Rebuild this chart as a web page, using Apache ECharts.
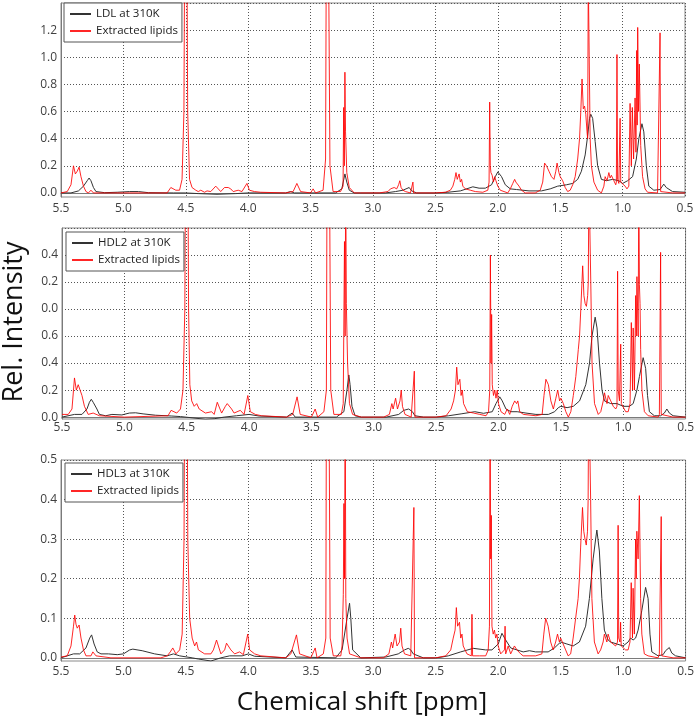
<!DOCTYPE html>
<html>
<head>
  <meta charset="utf-8">
  <title>NMR spectra</title>
  <script src="https://cdn.jsdelivr.net/npm/echarts/dist/echarts.min.js"></script>
  <style>
    html, body { margin: 0; padding: 0; background: #fff; }
    #main { width: 697px; height: 719px; }
  </style>
</head>
<body>
<div id="main"></div>
<script>
  // [ppm, relative intensity]
  const ldlProtein = [
    [5.50,0.0],[5.42,0.0],[5.36,0.015],[5.32,0.05],[5.29,0.09],[5.275,0.11],[5.26,0.09],[5.24,0.04],[5.22,0.01],
    [5.15,0.002],[5.05,0.005],[4.95,0.01],[4.88,0.01],[4.80,0.002],[4.60,0.0],[4.50,0.0],[4.40,-0.005],[4.25,-0.01],
    [4.10,-0.005],[4.00,0.0],[3.70,0.0],[3.66,0.01],[3.63,0.0],[3.30,0.0],[3.25,0.03],[3.225,0.14],[3.21,0.08],
    [3.19,0.02],[3.15,0.0],[2.90,0.0],[2.82,0.01],[2.76,0.02],[2.71,0.04],[2.69,0.015],[2.65,0.0],[2.50,0.0],
    [2.40,0.005],[2.30,0.015],[2.20,0.045],[2.15,0.035],[2.10,0.035],[2.05,0.06],[2.02,0.12],[2.00,0.155],[1.97,0.12],
    [1.94,0.06],[1.90,0.03],[1.85,0.025],[1.75,0.015],[1.65,0.015],[1.58,0.03],[1.52,0.05],[1.45,0.06],[1.40,0.07],
    [1.36,0.1],[1.33,0.16],[1.30,0.28],[1.28,0.42],[1.265,0.55],[1.255,0.58],[1.24,0.55],[1.22,0.38],[1.20,0.2],
    [1.17,0.1],[1.13,0.09],[1.08,0.1],[1.03,0.09],[1.0,0.07],[0.96,0.09],[0.92,0.12],[0.89,0.25],[0.87,0.4],
    [0.845,0.51],[0.83,0.45],[0.81,0.2],[0.79,0.05],[0.75,0.02],[0.70,0.025],[0.67,0.065],[0.65,0.04],[0.60,0.01],[0.50,0.005]
  ];
  const ldlLipids = [
    [5.50,0.0],[5.45,0.01],[5.42,0.06],[5.40,0.20],[5.385,0.14],[5.37,0.16],[5.355,0.19],[5.34,0.12],[5.32,0.05],
    [5.30,0.01],[5.28,0.0],[5.26,0.02],[5.24,0.0],[5.0,0.0],[4.65,0.0],[4.62,0.04],[4.605,0.05],[4.58,0.02],[4.55,0.02],
    [4.53,0.1],[4.515,0.6],[4.51,1.6],[4.49,1.6],[4.485,0.6],[4.47,0.1],[4.45,0.04],[4.42,0.02],[4.40,0.01],[4.38,0.02],
    [4.35,0.005],[4.33,0.015],[4.30,0.01],[4.26,0.05],[4.22,0.01],[4.19,0.04],[4.175,0.05],[4.16,0.04],[4.14,0.03],
    [4.12,0.01],[4.08,0.02],[4.05,0.01],[4.01,0.07],[3.99,0.02],[3.95,0.01],[3.90,0.005],[3.70,0.0],[3.64,0.01],
    [3.61,0.07],[3.58,0.01],[3.50,0.0],[3.48,0.03],[3.46,0.0],[3.40,0.02],[3.38,0.25],[3.375,1.6],[3.355,1.6],
    [3.345,0.2],[3.32,0.01],[3.26,0.01],[3.24,0.05],[3.235,0.63],[3.23,0.2],[3.225,0.89],[3.22,0.45],[3.21,0.15],
    [3.19,0.04],[3.15,0.0],[3.10,0.0],[2.95,0.0],[2.88,0.01],[2.86,0.03],[2.845,0.02],[2.83,0.04],[2.81,0.03],
    [2.795,0.06],[2.785,0.09],[2.775,0.04],[2.76,0.02],[2.74,0.01],[2.70,0.0],[2.685,0.0],[2.68,0.08],[2.675,0.0],
    [2.5,0.0],[2.42,0.005],[2.38,0.02],[2.36,0.05],[2.345,0.10],[2.335,0.15],[2.325,0.10],[2.31,0.14],[2.30,0.08],
    [2.29,0.1],[2.28,0.05],[2.26,0.03],[2.22,0.02],[2.18,0.01],[2.12,0.005],[2.08,0.02],[2.07,0.08],[2.065,0.67],
    [2.06,0.2],[2.055,0.15],[2.045,0.13],[2.035,0.08],[2.025,0.12],[2.015,0.09],[2.0,0.05],[1.98,0.02],[1.95,0.01],
    [1.92,0.0],[1.90,0.03],[1.88,0.07],[1.865,0.10],[1.855,0.08],[1.845,0.09],[1.83,0.05],[1.81,0.02],[1.78,0.0],
    [1.70,0.0],[1.66,0.02],[1.64,0.08],[1.625,0.22],[1.61,0.20],[1.59,0.16],[1.57,0.12],[1.55,0.1],[1.535,0.16],
    [1.525,0.22],[1.51,0.15],[1.50,0.12],[1.48,0.09],[1.46,0.04],[1.44,0.01],[1.42,0.02],[1.40,0.06],[1.38,0.12],
    [1.36,0.25],[1.345,0.40],[1.335,0.60],[1.325,0.84],[1.315,0.62],[1.305,0.64],[1.295,0.58],[1.285,0.45],[1.28,0.40],
    [1.275,1.6],[1.265,1.6],[1.26,0.4],[1.25,0.2],[1.23,0.08],[1.20,0.02],[1.17,0.0],[1.15,0.05],[1.14,0.12],
    [1.125,0.09],[1.11,0.15],[1.10,0.11],[1.09,0.13],[1.07,0.09],[1.055,0.06],[1.05,0.08],[1.045,1.02],[1.04,0.1],
    [1.03,0.07],[1.02,0.55],[1.015,0.08],[1.0,0.07],[0.98,0.05],[0.965,0.03],[0.95,0.05],[0.94,0.66],[0.93,0.2],
    [0.922,0.63],[0.912,0.25],[0.90,0.70],[0.893,0.3],[0.887,1.05],[0.883,0.5],[0.879,1.22],[0.872,0.6],[0.866,0.95],
    [0.855,0.35],[0.84,0.12],[0.82,0.03],[0.80,0.005],[0.72,0.0],[0.705,0.01],[0.70,1.18],[0.695,0.01],[0.60,0.0],[0.50,0.0]
  ];
  const hdl2Protein = [
    [5.50,0.0],[5.40,0.01],[5.34,0.01],[5.30,0.03],[5.28,0.055],[5.265,0.066],[5.25,0.055],[5.22,0.03],[5.20,0.01],
    [5.15,0.005],[5.10,0.01],[5.02,0.008],[4.96,0.015],[4.91,0.016],[4.85,0.012],[4.75,0.007],[4.62,0.004],[4.55,0.002],
    [4.45,-0.003],[4.35,-0.008],[4.28,-0.006],[4.20,0.0],[4.10,0.005],[4.00,0.01],[3.92,0.004],[3.70,0.0],[3.655,0.015],
    [3.63,0.0],[3.30,0.0],[3.24,0.02],[3.215,0.1],[3.20,0.156],[3.19,0.12],[3.175,0.04],[3.15,0.005],[3.10,0.0],
    [2.90,0.0],[2.80,0.01],[2.76,0.025],[2.72,0.03],[2.69,0.02],[2.67,0.005],[2.60,0.0],[2.50,0.0],[2.40,0.005],
    [2.30,0.012],[2.19,0.02],[2.12,0.014],[2.05,0.02],[2.02,0.05],[1.99,0.075],[1.97,0.06],[1.94,0.03],[1.90,0.02],
    [1.85,0.02],[1.78,0.015],[1.70,0.01],[1.60,0.01],[1.55,0.02],[1.52,0.035],[1.50,0.04],[1.45,0.035],[1.40,0.04],
    [1.35,0.06],[1.30,0.12],[1.27,0.2],[1.25,0.3],[1.225,0.37],[1.21,0.33],[1.19,0.2],[1.17,0.1],[1.15,0.06],
    [1.10,0.05],[1.05,0.05],[1.00,0.04],[0.95,0.04],[0.92,0.05],[0.89,0.1],[0.87,0.15],[0.84,0.22],[0.82,0.18],
    [0.805,0.08],[0.79,0.02],[0.75,0.005],[0.70,0.005],[0.67,0.015],[0.65,0.03],[0.63,0.015],[0.60,0.005],[0.50,0.0]
  ];
  const hdl2Lipids = [
    [5.50,0.01],[5.45,0.01],[5.42,0.03],[5.40,0.145],[5.385,0.10],[5.37,0.12],[5.355,0.125],[5.34,0.08],[5.32,0.04],
    [5.29,0.01],[5.25,0.015],[5.20,0.005],[5.00,0.0],[4.65,0.005],[4.625,0.025],[4.61,0.03],[4.58,0.015],[4.55,0.03],
    [4.53,0.1],[4.515,0.4],[4.51,0.9],[4.49,0.9],[4.485,0.4],[4.475,0.12],[4.46,0.06],[4.44,0.04],[4.42,0.05],
    [4.40,0.03],[4.35,0.015],[4.30,0.02],[4.28,0.01],[4.255,0.055],[4.22,0.015],[4.19,0.04],[4.175,0.05],[4.16,0.045],
    [4.14,0.03],[4.12,0.015],[4.07,0.025],[4.04,0.01],[4.01,0.08],[3.99,0.02],[3.95,0.01],[3.90,0.005],[3.70,0.0],
    [3.65,0.01],[3.615,0.075],[3.59,0.01],[3.50,0.0],[3.47,0.03],[3.45,0.0],[3.40,0.02],[3.38,0.1],[3.375,0.9],
    [3.355,0.9],[3.345,0.1],[3.32,0.01],[3.26,0.01],[3.245,0.05],[3.235,0.65],[3.23,0.3],[3.225,0.9],[3.22,0.42],
    [3.21,0.2],[3.195,0.05],[3.17,0.01],[3.10,0.0],[2.92,0.0],[2.875,0.01],[2.855,0.05],[2.845,0.03],[2.825,0.07],
    [2.81,0.03],[2.79,0.06],[2.78,0.10],[2.77,0.04],[2.75,0.01],[2.70,0.0],[2.685,0.0],[2.675,0.17],[2.67,0.0],
    [2.50,0.0],[2.42,0.005],[2.38,0.03],[2.36,0.06],[2.345,0.10],[2.335,0.185],[2.325,0.12],[2.31,0.14],[2.30,0.08],
    [2.29,0.10],[2.28,0.05],[2.25,0.02],[2.20,0.015],[2.15,0.01],[2.10,0.005],[2.08,0.02],[2.07,0.1],[2.065,0.60],
    [2.06,0.2],[2.055,0.38],[2.05,0.12],[2.04,0.08],[2.03,0.10],[2.02,0.07],[2.01,0.10],[2.00,0.05],[1.98,0.02],
    [1.95,0.01],[1.93,0.03],[1.91,0.01],[1.89,0.04],[1.87,0.06],[1.855,0.05],[1.845,0.06],[1.83,0.02],[1.80,0.01],
    [1.70,0.005],[1.65,0.01],[1.635,0.08],[1.62,0.14],[1.60,0.12],[1.58,0.06],[1.56,0.03],[1.54,0.07],[1.525,0.10],
    [1.51,0.06],[1.50,0.07],[1.48,0.05],[1.46,0.02],[1.44,0.0],[1.42,0.02],[1.40,0.08],[1.38,0.15],[1.36,0.25],
    [1.35,0.3],[1.34,0.4],[1.325,0.56],[1.315,0.45],[1.305,0.42],[1.295,0.41],[1.285,0.45],[1.28,0.5],[1.275,0.9],
    [1.265,0.9],[1.26,0.5],[1.25,0.2],[1.23,0.05],[1.20,0.01],[1.18,0.02],[1.16,0.06],[1.15,0.09],[1.13,0.05],
    [1.12,0.08],[1.10,0.06],[1.08,0.04],[1.06,0.03],[1.05,0.04],[1.045,0.54],[1.04,0.1],[1.03,0.06],[1.02,0.27],
    [1.015,0.05],[1.00,0.05],[0.98,0.02],[0.96,0.02],[0.945,0.05],[0.935,0.35],[0.925,0.1],[0.92,0.33],[0.91,0.1],
    [0.90,0.45],[0.895,0.3],[0.89,0.52],[0.88,0.3],[0.875,0.9],[0.87,0.49],[0.865,0.42],[0.86,0.25],[0.85,0.1],
    [0.83,0.02],[0.80,0.005],[0.72,0.0],[0.71,0.01],[0.70,0.61],[0.695,0.01],[0.60,0.0],[0.50,0.0]
  ];
  const hdl3Protein = [
    [5.50,0.0],[5.45,0.005],[5.40,0.01],[5.35,0.01],[5.30,0.025],[5.27,0.05],[5.255,0.058],[5.235,0.035],[5.21,0.015],
    [5.18,0.01],[5.12,0.01],[5.05,0.008],[5.00,0.01],[4.95,0.02],[4.925,0.022],[4.85,0.018],[4.75,0.01],[4.65,0.005],
    [4.60,0.01],[4.55,0.005],[4.45,0.0],[4.40,-0.003],[4.30,-0.008],[4.22,0.0],[4.15,0.005],[4.05,0.005],[4.00,0.01],
    [3.95,0.004],[3.70,0.0],[3.65,0.02],[3.62,0.002],[3.30,0.0],[3.25,0.02],[3.21,0.1],[3.19,0.138],[3.18,0.1],
    [3.165,0.02],[3.10,0.0],[2.90,0.002],[2.80,0.01],[2.75,0.02],[2.72,0.024],[2.70,0.02],[2.68,0.01],[2.60,0.0],
    [2.50,0.0],[2.45,0.002],[2.40,0.005],[2.30,0.015],[2.20,0.024],[2.10,0.02],[2.05,0.02],[2.00,0.035],[1.97,0.062],
    [1.94,0.045],[1.90,0.025],[1.85,0.02],[1.80,0.015],[1.75,0.018],[1.70,0.015],[1.60,0.015],[1.55,0.025],[1.50,0.04],
    [1.45,0.035],[1.40,0.03],[1.35,0.04],[1.30,0.08],[1.27,0.15],[1.24,0.25],[1.22,0.3],[1.21,0.323],[1.19,0.27],
    [1.17,0.15],[1.15,0.07],[1.12,0.045],[1.10,0.04],[1.05,0.035],[1.00,0.03],[0.96,0.04],[0.94,0.05],[0.92,0.045],
    [0.90,0.05],[0.88,0.07],[0.85,0.12],[0.82,0.178],[0.80,0.15],[0.785,0.06],[0.77,0.015],[0.72,0.005],[0.68,0.008],
    [0.66,0.018],[0.63,0.026],[0.61,0.012],[0.58,0.005],[0.50,0.0]
  ];
  const hdl3Lipids = [
    [5.50,0.002],[5.45,0.005],[5.42,0.03],[5.40,0.08],[5.39,0.108],[5.38,0.085],[5.37,0.075],[5.355,0.083],[5.34,0.05],
    [5.32,0.02],[5.30,0.005],[5.26,0.005],[5.245,0.015],[5.22,0.005],[5.10,0.0],[4.70,0.0],[4.65,0.005],[4.625,0.015],
    [4.605,0.025],[4.58,0.01],[4.55,0.02],[4.53,0.06],[4.515,0.3],[4.51,0.7],[4.49,0.7],[4.485,0.3],[4.47,0.1],
    [4.45,0.05],[4.43,0.03],[4.415,0.04],[4.40,0.02],[4.35,0.01],[4.30,0.01],[4.28,0.02],[4.255,0.045],[4.22,0.01],
    [4.19,0.02],[4.175,0.037],[4.16,0.035],[4.14,0.02],[4.11,0.01],[4.07,0.015],[4.04,0.008],[4.005,0.06],[3.99,0.02],
    [3.95,0.01],[3.90,0.005],[3.70,0.0],[3.66,0.01],[3.615,0.058],[3.59,0.01],[3.50,0.0],[3.465,0.025],[3.45,0.0],
    [3.40,0.01],[3.38,0.05],[3.375,0.7],[3.355,0.7],[3.345,0.05],[3.32,0.005],[3.26,0.005],[3.25,0.03],[3.24,0.16],
    [3.235,0.39],[3.23,0.2],[3.225,0.7],[3.22,0.15],[3.21,0.05],[3.19,0.01],[3.10,0.0],[2.92,0.0],[2.875,0.01],
    [2.855,0.04],[2.845,0.025],[2.825,0.06],[2.81,0.03],[2.79,0.04],[2.78,0.075],[2.77,0.03],[2.75,0.01],[2.70,0.005],
    [2.685,0.0],[2.675,0.38],[2.67,0.0],[2.50,0.0],[2.42,0.005],[2.38,0.02],[2.36,0.05],[2.345,0.07],[2.335,0.127],
    [2.325,0.08],[2.31,0.09],[2.30,0.05],[2.29,0.06],[2.28,0.03],[2.25,0.01],[2.215,0.005],[2.21,0.11],[2.205,0.005],
    [2.15,0.005],[2.10,0.005],[2.08,0.02],[2.07,0.08],[2.065,0.7],[2.06,0.25],[2.055,0.36],[2.05,0.08],[2.04,0.06],
    [2.03,0.07],[2.02,0.05],[2.01,0.06],[2.00,0.03],[1.98,0.01],[1.95,0.02],[1.945,0.08],[1.94,0.01],[1.92,0.03],
    [1.90,0.01],[1.87,0.03],[1.85,0.02],[1.82,0.01],[1.80,0.005],[1.70,0.005],[1.65,0.01],[1.635,0.06],[1.62,0.10],
    [1.60,0.08],[1.58,0.04],[1.56,0.02],[1.54,0.04],[1.525,0.06],[1.51,0.04],[1.50,0.05],[1.48,0.035],[1.46,0.02],
    [1.44,0.005],[1.42,0.01],[1.40,0.05],[1.38,0.1],[1.36,0.15],[1.35,0.2],[1.34,0.28],[1.325,0.38],[1.315,0.32],
    [1.305,0.30],[1.295,0.285],[1.285,0.32],[1.28,0.4],[1.275,0.7],[1.265,0.7],[1.26,0.4],[1.25,0.15],[1.23,0.04],
    [1.20,0.01],[1.18,0.02],[1.16,0.04],[1.15,0.06],[1.13,0.04],[1.12,0.06],[1.10,0.04],[1.08,0.035],[1.06,0.03],
    [1.045,0.04],[1.04,0.335],[1.035,0.05],[1.025,0.04],[1.02,0.09],[1.015,0.03],[1.00,0.03],[0.98,0.02],[0.96,0.02],
    [0.945,0.04],[0.935,0.19],[0.925,0.05],[0.92,0.176],[0.91,0.06],[0.90,0.30],[0.895,0.2],[0.89,0.32],[0.88,0.25],
    [0.87,0.41],[0.865,0.28],[0.86,0.15],[0.85,0.06],[0.83,0.01],[0.80,0.005],[0.72,0.0],[0.71,0.01],[0.695,0.357],
    [0.69,0.005],[0.60,0.0],[0.50,0.0]
  ];

  const proteinNames = ['LDL at 310K', 'HDL2 at 310K', 'HDL3 at 310K'];
  const lipidName = 'Extracted lipids';
  const xTicks = ['5.5', '5.0', '4.5', '4.0', '3.5', '3.0', '2.5', '2.0', '1.5', '1.0', '0.5'];
  const ldlTicks = ['0.0', '0.2', '0.4', '0.6', '0.8', '1.0', '1.2'];
  const hdl2Ticks = ['0.0', '0.2', '0.4', '0.6', '0.0', '0.2', '0.4'];
  const hdl3Ticks = ['0.0', '0.1', '0.2', '0.3', '0.4', '0.5'];

  const font = 'Open Sans';
  const panels = [
    { grid: { left: 61, top: 3, width: 624, height: 194 }, min: -0.03, max: 1.4, step: 0.2, ticks: ldlTicks,
      labelGap: 6, legend: { left: 64, top: 3 }, protein: ldlProtein, lipids: ldlLipids },
    { grid: { left: 62, top: 228, width: 624, height: 191 }, min: -0.007, max: 0.7, step: 0.1, ticks: hdl2Ticks,
      labelGap: 3, legend: { left: 66, top: 232 }, protein: hdl2Protein, lipids: hdl2Lipids },
    { grid: { left: 61, top: 460, width: 626, height: 201 }, min: -0.008, max: 0.5, step: 0.1, ticks: hdl3Ticks,
      labelGap: 5, legend: { left: 65, top: 463 }, protein: hdl3Protein, lipids: hdl3Lipids }
  ];

  const grids = [], xAxes = [], yAxes = [], legends = [], series = [];
  panels.forEach(function (p, i) {
    // grid line positions: every step up to the top of the panel; labels only where the picture has one
    const gridValues = [];
    for (let k = 0; k * p.step <= p.max + 1e-9; k++) gridValues.push(+(k * p.step).toFixed(2));
    const labelValues = gridValues.slice(0, p.ticks.length);

    grids.push(Object.assign({ show: true, borderColor: '#8a8a8a', borderWidth: 1, containLabel: false }, p.grid));
    xAxes.push({
      type: 'value', gridIndex: i, inverse: true, min: 0.5, max: 5.5, interval: 0.5,
      axisLine: { show: true, lineStyle: { color: '#7a7a7a' } },
      axisTick: { show: false },
      axisLabel: {
        margin: p.labelGap, color: '#404040', fontFamily: font, fontSize: 12,
        formatter: function (v) { return xTicks[Math.round((5.5 - v) / 0.5)] || ''; }
      },
      splitLine: { show: true, lineStyle: { color: '#555', type: [1, 2], width: 1 } }
    });
    yAxes.push({
      type: 'value', gridIndex: i, min: p.min, max: p.max,
      axisLine: { show: true, lineStyle: { color: '#7a7a7a' } },
      axisTick: { show: false, customValues: gridValues },
      axisLabel: {
        margin: 4, color: '#404040', fontFamily: font, fontSize: 12,
        customValues: labelValues,
        formatter: function (v) { return p.ticks[Math.round(v / p.step)] || ''; }
      },
      splitLine: { show: true, lineStyle: { color: '#555', type: [1, 2], width: 1 } }
    });
    legends.push({
      left: p.legend.left, top: p.legend.top, orient: 'vertical',
      data: [
        { name: proteinNames[i], itemStyle: { opacity: 0 } },
        { name: lipidName, itemStyle: { opacity: 0 } }
      ],
      selectedMode: false,
      backgroundColor: '#fff', borderColor: '#555', borderWidth: 1, borderRadius: 0,
      padding: [5, 4, 5, 5], itemGap: 5, itemWidth: 21, itemHeight: 12,
      textStyle: { fontFamily: font, fontSize: 11.5, color: '#222' }
    });
    series.push({
      name: proteinNames[i], type: 'line', xAxisIndex: i, yAxisIndex: i, data: p.protein,
      symbol: 'none', color: '#333', lineStyle: { width: 1, color: '#333' }, z: 2
    });
    series.push({
      name: lipidName, type: 'line', xAxisIndex: i, yAxisIndex: i, data: p.lipids,
      symbol: 'none', color: '#ff0000', lineStyle: { width: 1, color: '#ff0000', opacity: 0.85 }, z: 3
    });
  });

  const chart = echarts.init(document.getElementById('main'));
  chart.setOption({
    animation: false,
    backgroundColor: '#fff',
    grid: grids,
    xAxis: xAxes,
    yAxis: yAxes,
    legend: legends,
    series: series,
    graphic: [
      { type: 'text', x: 14, y: 322, rotation: Math.PI / 2,
        style: { text: 'Rel. Intensity', fontFamily: font, fontSize: 27, fill: '#111', align: 'center', verticalAlign: 'middle' } },
      { type: 'text', x: 362, y: 703,
        style: { text: 'Chemical shift [ppm]', fontFamily: font, fontSize: 26, fill: '#111', align: 'center', verticalAlign: 'middle' } }
    ]
  });
</script>
</body>
</html>
